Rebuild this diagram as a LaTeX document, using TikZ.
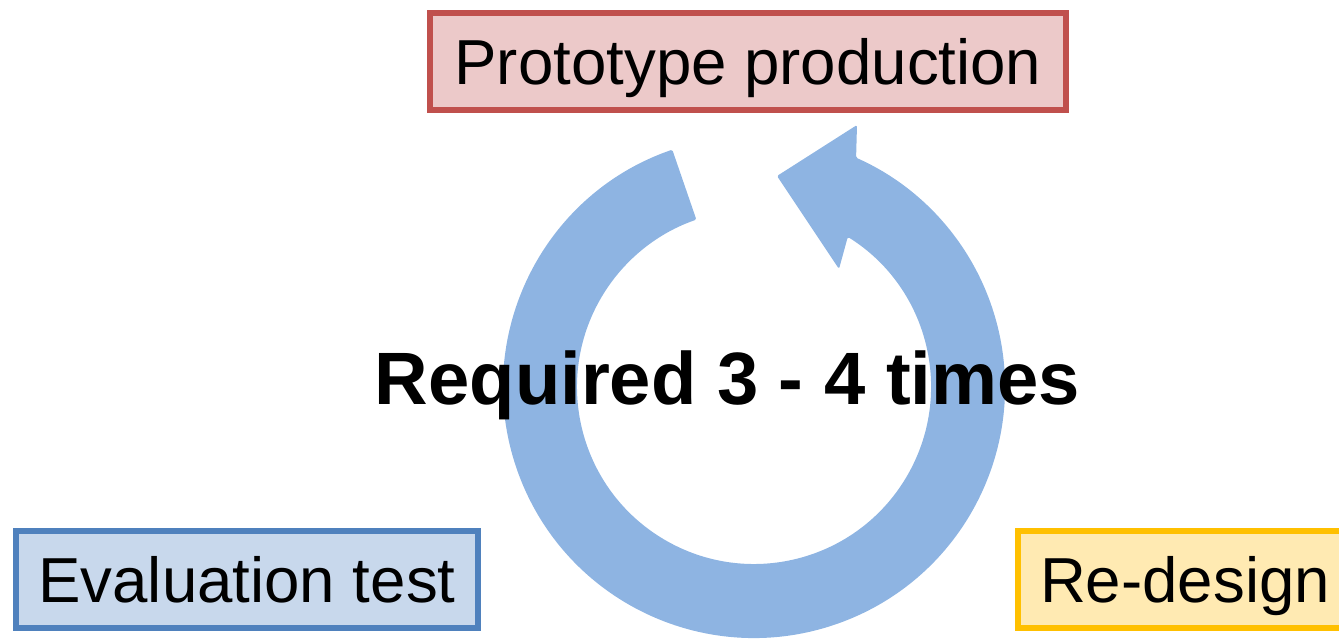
\documentclass[tikz,border=0pt]{standalone}
\usepackage{fontspec}
\setmainfont{Liberation Sans}
\usetikzlibrary{calc}
\definecolor{protoFill}{RGB}{236,201,201}
\definecolor{protoLine}{HTML}{C0504D}
\definecolor{evalFill}{RGB}{200,216,236}
\definecolor{evalLine}{HTML}{4F81BD}
\definecolor{redesFill}{RGB}{255,234,178}
\definecolor{redesLine}{HTML}{FFC000}
\definecolor{arrowc}{RGB}{142,180,226}
\tikzset{
  labelbox/.style={draw, line width=6pt, inner sep=0pt, minimum height=97pt,
    text height=55pt, text depth=8pt,
    font=\fontsize{63.6pt}{70pt}\selectfont, text=black},
}
\begin{document}
\begin{tikzpicture}[x=1pt,y=1pt]
\useasboundingbox (0,0) rectangle (1339,640);
\clip (0,0) rectangle (1339,640);
\coordinate (c) at (754,253);
% circular arrow
\fill[arrowc, rounded corners=1.5pt] (c) ++(109:251)
  arc[start angle=109, end angle=426, radius=251]
  -- (857,515) -- (777,464) -- (839,371)
  -- ($(c)+(418:177)$)
  arc[start angle=418, end angle=109, radius=177] -- cycle;
\node[labelbox, draw=protoLine, fill=protoFill, minimum width=636pt] (proto) at (748,578.5) {Prototype production};
\node[labelbox, draw=evalLine, fill=evalFill, minimum width=462pt] (eval) at (247,60.5) {Evaluation test};
\node[labelbox, draw=redesLine, fill=redesFill, minimum width=334pt] (redes) at (1185,60.5) {Re-design};
\node[inner sep=0pt, anchor=base, font=\fontsize{74.2pt}{80pt}\selectfont\bfseries] (req) at (727.5,235) {Required 3 - 4 times};
\end{tikzpicture}
\end{document}
